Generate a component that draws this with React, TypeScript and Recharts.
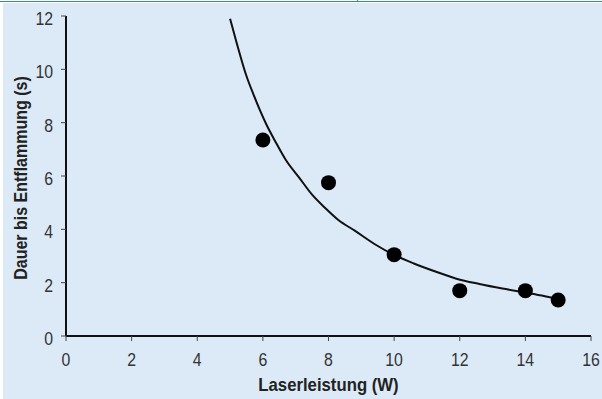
import { ComposedChart, Line, Scatter, XAxis, YAxis } from 'recharts';

// Measured ignition delay vs. laser power
const powerW = [6, 8, 10, 12, 14, 15];
const delayS = [7.35, 5.75, 3.05, 1.7, 1.7, 1.35];

// Fitted curve
const fitPowerW = [5.0, 5.2, 5.5, 5.7, 5.9, 6.1, 6.4, 6.7, 7.1, 7.5, 7.9, 8.3, 8.8, 9.4, 10, 10.6, 11.3, 11.9, 12.6, 13.3, 14, 14.5, 15];
const fitDelayS = [11.9, 11.0, 9.75, 9.1, 8.5, 7.95, 7.25, 6.6, 5.95, 5.3, 4.8, 4.35, 3.95, 3.45, 3.04, 2.72, 2.4, 2.15, 1.95, 1.78, 1.63, 1.52, 1.38];

const xTicks = [0, 2, 4, 6, 8, 10, 12, 14, 16];
const yTicks = [0, 2, 4, 6, 8, 10, 12];

const measured = powerW.map((x, i) => ({ x, y: delayS[i] }));
const fit = fitPowerW.map((x, i) => ({ x, y: fitDelayS[i] }));

const font = "'Liberation Sans', Arial, sans-serif";

const XTick = ({ x, y, payload }: any) => (
  <g transform={`translate(${x},${y})`}>
    <text transform="scale(0.88,1)" textAnchor="middle" dy={25} fill="#333" fontSize={18} fontFamily={font}>
      {payload.value}
    </text>
  </g>
);

const YTick = ({ x, y, payload }: any) => (
  <g transform={`translate(${x},${y})`}>
    <text transform="scale(0.88,1)" textAnchor="end" dy={9} fill="#333" fontSize={18} fontFamily={font}>
      {payload.value}
    </text>
  </g>
);

const XLabel = ({ viewBox }: any) => (
  <text
    transform={`translate(${viewBox.x + viewBox.width / 2},${viewBox.y + 55}) scale(0.93,1)`}
    textAnchor="middle"
    fill="#222"
    fontSize={18}
    fontWeight="bold"
    fontFamily={font}
  >
    Laserleistung (W)
  </text>
);

const YLabel = ({ viewBox }: any) => (
  <text
    transform={`translate(${viewBox.x + 27},${viewBox.y + viewBox.height / 2 + 2}) rotate(-90) scale(0.89,1)`}
    textAnchor="middle"
    fill="#222"
    fontSize={18}
    fontWeight="bold"
    fontFamily={font}
  >
    Dauer bis Entflammung (s)
  </text>
);

export default function App() {
  return (
    <div style={{ position: 'absolute', left: 0, top: 0, width: 602, height: 399, background: '#fff' }}>
      <div style={{ position: 'absolute', left: 0, top: 1, width: 602, height: 1, background: '#3f7fc2' }} />
      <div style={{ position: 'absolute', left: 357, top: 0, width: 1, height: 2, background: '#3f7fc2' }} />
      <div style={{ position: 'absolute', left: 3, top: 3, width: 599, height: 396, background: '#dceaf7' }} />
      <div style={{ position: 'absolute', left: 0, top: 0 }}>
        <ComposedChart width={602} height={399} margin={{ top: 16, right: 11, left: 0, bottom: 0 }}>
          <XAxis
            type="number"
            dataKey="x"
            domain={[0, 16]}
            ticks={xTicks}
            height={63}
            tickSize={5}
            tickMargin={0}
            tick={<XTick />}
            axisLine={{ stroke: '#111', strokeWidth: 2 }}
            tickLine={{ stroke: '#444' }}
            label={<XLabel />}
          />
          <YAxis
            type="number"
            dataKey="y"
            domain={[0, 12]}
            ticks={yTicks}
            width={66}
            tickSize={5}
            tickMargin={8}
            tick={<YTick />}
            axisLine={{ stroke: '#111', strokeWidth: 2 }}
            tickLine={{ stroke: '#444' }}
            label={<YLabel />}
          />
          <Line
            data={fit}
            dataKey="y"
            type="monotone"
            stroke="#111"
            strokeWidth={2}
            dot={false}
            activeDot={false}
            isAnimationActive={false}
          />
          <Scatter
            data={measured}
            dataKey="y"
            fill="#000"
            shape={(p: any) => <circle cx={p.cx} cy={p.cy} r={7.5} fill="#000" />}
            isAnimationActive={false}
          />
        </ComposedChart>
      </div>
    </div>
  );
}
